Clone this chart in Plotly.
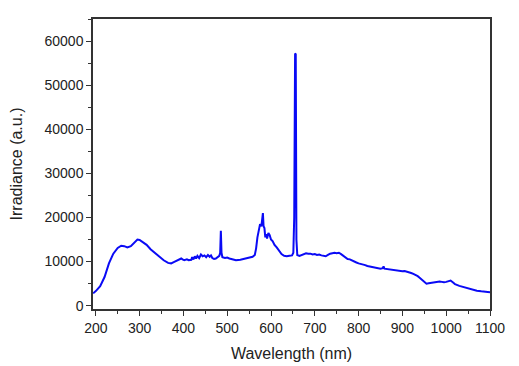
import plotly.graph_objects as go

wavelength = [194, 200, 210, 220, 230, 240, 250, 258, 265, 272, 280, 288, 295, 300, 308, 316, 325, 335, 345, 355,
              365, 372, 378, 385, 390, 395, 398, 402, 408, 412, 418, 420, 423, 426, 429, 432, 436, 440, 444, 448,
              452, 456, 460, 463, 466, 470, 474, 478, 482, 484, 485.5, 487, 489, 495, 500, 505, 512, 520, 530, 540,
              550, 558, 563, 566, 569, 572, 575, 578, 580, 581.5, 583, 585, 587, 589, 591, 594, 597, 600, 604, 608,
              613, 618, 624, 630, 636, 642, 648, 651, 653, 655, 656.5, 658, 660, 665, 670, 675, 680, 685, 690, 695,
              700, 705, 710, 715, 720, 725, 730, 735, 740, 745, 750, 755, 760, 765, 770, 775, 780, 785, 790, 795,
              800, 805, 810, 815, 820, 825, 830, 835, 840, 845, 850, 855, 857, 859, 865, 870, 875, 880, 885, 890,
              895, 900, 905, 910, 915, 920, 925, 930, 935, 940, 945, 950, 955, 960, 965, 970, 975, 980, 985, 990,
              995, 1000, 1005, 1010, 1015, 1020, 1030, 1040, 1050, 1060, 1070, 1080, 1090, 1100]
irradiance = [2800, 3300, 4400, 6500, 9600, 11800, 13100, 13600, 13500, 13200, 13500, 14400, 15000, 14900, 14400, 13800, 12800, 11900, 11200, 10300,
              9700, 9600, 9900, 10200, 10300, 10700, 10500, 10300, 10500, 10300, 10400, 11000, 10500, 11200, 10700, 11300, 10800, 11600, 11200, 11400,
              11000, 11500, 11100, 11400, 10800, 10600, 10700, 11000, 11300, 12000, 17000, 12000, 11000, 10800, 10900, 10700, 10500, 10300, 10400, 10700,
              11000, 11100, 11500, 13000, 15500, 16800, 18500, 18000, 20500, 21000, 18000, 17600, 15500, 16200, 15200, 16500, 16000, 15000, 14600, 13800,
              13200, 12500, 11700, 11300, 11200, 11300, 11400, 12000, 20000, 57200, 57000, 15000, 11500, 11300, 11500, 11700, 11900, 11800, 11800, 11600,
              11700, 11500, 11600, 11400, 11300, 11200, 11500, 11800, 11900, 12000, 11900, 12000, 11700, 11300, 11000, 10600, 10500, 10200, 10000, 9800,
              9600, 9500, 9300, 9200, 9000, 8900, 8800, 8700, 8600, 8500, 8400, 8500, 8900, 8400, 8300, 8200, 8100, 8000, 8050, 7900,
              7900, 7800, 7850, 7700, 7700, 7400, 7200, 7000, 6700, 6300, 5800, 5300, 5000, 5100, 5200, 5300, 5350, 5400, 5500, 5400,
              5300, 5400, 5600, 5700, 5300, 4900, 4500, 4200, 3900, 3600, 3400, 3250, 3150, 3050]

x_ticks = [200, 300, 400, 500, 600, 700, 800, 900, 1000, 1100]
y_ticks = [0, 10000, 20000, 30000, 40000, 50000, 60000]

fig = go.Figure()
fig.add_trace(go.Scatter(x=wavelength, y=irradiance, mode="lines",
                         line=dict(color="#0a0af5", width=2), showlegend=False))

axis_common = dict(showgrid=False, zeroline=False, showline=True, linecolor="#333333", linewidth=1.5,
                   mirror=True, ticks="outside", ticklen=5, tickwidth=1.2, tickcolor="#333333",
                   automargin=False, tickformat="d",
                   tickfont=dict(family="Liberation Sans, Arial, sans-serif", size=14, color="#222222"),
                   minor=dict(ticks="outside", ticklen=3, tickwidth=1, tickcolor="#333333"))

fig.update_xaxes(range=[193.6, 1100], tickvals=x_ticks, minor_dtick=50,
                 title=dict(text="Wavelength (nm)", standoff=13,
                            font=dict(family="Liberation Sans, Arial, sans-serif", size=16, color="#222222")),
                 **axis_common)
fig.update_yaxes(range=[-750, 65000], tickvals=y_ticks, minor_dtick=5000,
                 title=dict(text="Irradiance (a.u.)", standoff=19,
                            font=dict(family="Liberation Sans, Arial, sans-serif", size=16, color="#222222")),
                 **axis_common)

fig.update_layout(width=511, height=358, margin=dict(l=85, r=29, t=11, b=57),
                  plot_bgcolor="white", paper_bgcolor="white")

fig.write_html("out.html")
